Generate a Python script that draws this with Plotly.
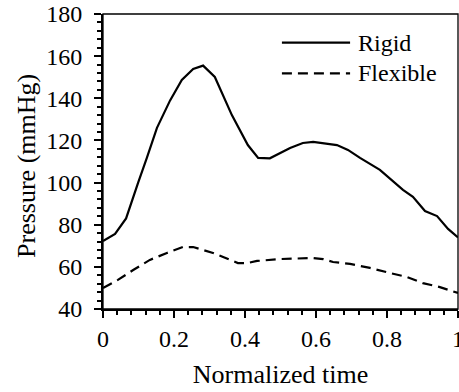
import plotly.graph_objects as go

# Data
rigid_x = [0.0, 0.034, 0.065, 0.082, 0.099, 0.124, 0.152, 0.189, 0.222, 0.254, 0.282,
           0.315, 0.344, 0.363, 0.408, 0.437, 0.470, 0.500, 0.527, 0.563, 0.592, 0.659,
           0.690, 0.724, 0.780, 0.845, 0.873, 0.907, 0.941, 0.972, 1.0]
rigid_y = [72.3, 75.6, 83.0, 91.7, 100.0, 112.0, 126.0, 139.0, 148.7, 153.9, 155.5,
           150.1, 139.2, 132.0, 117.8, 111.7, 111.5, 114.0, 116.4, 118.8, 119.3, 117.8,
           115.5, 111.7, 106.0, 96.5, 93.2, 86.5, 84.1, 78.0, 74.0]

flex_x = [0.0, 0.042, 0.085, 0.132, 0.180, 0.225, 0.254, 0.282, 0.310, 0.358, 0.380,
          0.406, 0.434, 0.499, 0.592, 0.620, 0.648, 0.696, 0.752, 0.808, 0.856, 0.901,
          0.949, 1.0]
flex_y = [50.0, 53.8, 58.5, 63.3, 66.6, 69.4, 69.4, 68.0, 66.6, 63.3, 61.8,
          61.8, 62.8, 63.7, 64.2, 63.7, 62.3, 61.4, 59.5, 57.1, 55.2, 52.3,
          50.4, 47.6]

series_names = ["Rigid", "Flexible"]
x_tickvals = [0, 0.2, 0.4, 0.6, 0.8, 1.0]
x_ticktext = ["0", "0.2", "0.4", "0.6", "0.8", "1"]
y_tickvals = [40, 60, 80, 100, 120, 140, 160, 180]
x_title = "Normalized time"
y_title = "Pressure (mmHg)"

FONT = "Liberation Serif"
tickfont = dict(family=FONT, size=24, color="black")
titlefont = dict(family=FONT, size=26, color="black")

fig = go.Figure()
fig.add_trace(go.Scatter(x=rigid_x, y=rigid_y, mode="lines", name=series_names[0],
                         line=dict(color="black", width=2.2), showlegend=False))
fig.add_trace(go.Scatter(x=flex_x, y=flex_y, mode="lines", name=series_names[1],
                         line=dict(color="black", width=2.2, dash="10px,6px"),
                         showlegend=False))

# Manual legend (paper coordinates)
leg = [(series_names[0], "solid", 0.903), (series_names[1], "10px,6px", 0.799)]
for name, dash, yy in leg:
    fig.add_shape(type="line", xref="paper", yref="paper",
                  x0=0.504, x1=0.696, y0=yy, y1=yy,
                  line=dict(color="black", width=2.2, dash=dash))
    fig.add_annotation(text=name, xref="paper", yref="paper", x=0.713, y=yy,
                       xanchor="left", yanchor="middle", showarrow=False,
                       font=dict(family=FONT, size=24, color="black"))

# Y axis title
fig.add_annotation(text=y_title, xref="paper", yref="paper", x=-0.214, y=0.485,
                   xanchor="center", yanchor="middle", textangle=-90, showarrow=False,
                   font=titlefont)

# Frame
fig.add_shape(type="rect", xref="paper", yref="paper", x0=0, x1=1, y0=0, y1=1,
              line=dict(color="black", width=1.3), layer="above")

fig.update_layout(
    width=459, height=392,
    margin=dict(l=103, r=1, t=14, b=83),
    paper_bgcolor="white", plot_bgcolor="white",
    font=dict(family=FONT, size=24, color="black"),
    xaxis=dict(range=[0, 1], tickvals=x_tickvals, ticktext=x_ticktext,
               tickfont=tickfont, ticklabeloverflow="allow", automargin=False,
               showgrid=False, zeroline=False, showline=True, linecolor="black",
               linewidth=2, ticks="outside", ticklen=7, tickwidth=2, tickcolor="black",
               ticklabelstandoff=0,
               minor=dict(dtick=0.04, tick0=0, ticks="outside", ticklen=4,
                          tickwidth=1.5, tickcolor="black", showgrid=False),
               title=dict(text=x_title, font=titlefont, standoff=14)),
    yaxis=dict(range=[40, 180], tickvals=y_tickvals, tickfont=tickfont,
               automargin=False,
               showgrid=False, zeroline=False, showline=True, linecolor="black",
               linewidth=2, ticks="outside", ticklen=7, tickwidth=2, tickcolor="black",
               ticklabelstandoff=7,
               minor=dict(dtick=4, tick0=40, ticks="outside", ticklen=4,
                          tickwidth=1.5, tickcolor="black", showgrid=False)),
)

fig.write_html("out.html")
